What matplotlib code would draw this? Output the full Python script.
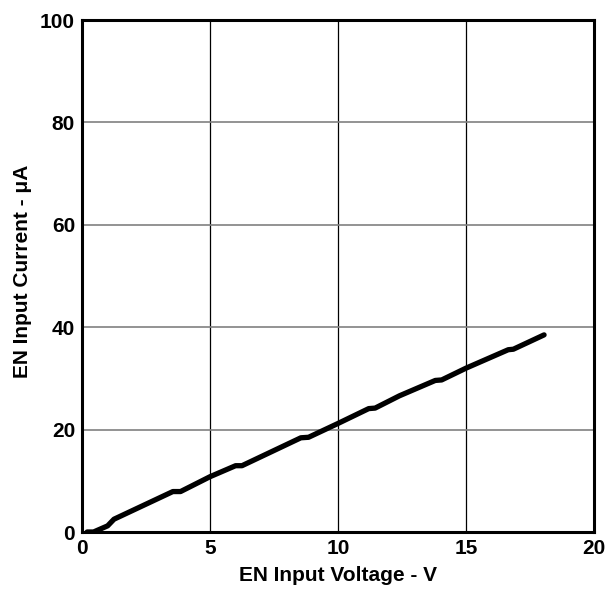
import matplotlib
matplotlib.use("Agg")
import matplotlib.pyplot as plt

# EN input current vs EN input voltage
voltage = [0.2, 0.45, 1.0, 1.25, 3.55, 3.85, 5.0, 6.0, 6.25, 8.55, 8.85,
           10.0, 11.2, 11.45, 12.4, 13.8, 14.05, 15.0, 16.65, 16.85, 18.05]
current = [0.0, 0.0, 1.2, 2.5, 7.9, 7.9, 10.8, 12.95, 12.95, 18.4, 18.5,
           21.2, 24.1, 24.2, 26.6, 29.6, 29.7, 32.0, 35.6, 35.7, 38.5]

x_ticks = [0, 5, 10, 15, 20]
y_ticks = [0, 20, 40, 60, 80, 100]

plt.rcParams["font.family"] = ["Liberation Sans", "DejaVu Sans"]
plt.rcParams["font.weight"] = "bold"

fig = plt.figure(figsize=(6.07, 5.90), dpi=100)
ax = fig.add_axes([82 / 607, 1 - 532 / 590, 512 / 607, 512 / 590])

ax.plot(voltage, current, color="black", lw=3.8, solid_capstyle="round",
        solid_joinstyle="round", zorder=3)

ax.set_xlim(0, 20)
ax.set_ylim(0, 100)
ax.set_xticks(x_ticks)
ax.set_yticks(y_ticks)
ax.tick_params(length=0, labelsize=15, pad=5)
for lbl in ax.get_xticklabels() + ax.get_yticklabels():
    lbl.set_fontweight("bold")

# vertical grid black, horizontal grid grey
ax.xaxis.grid(True, color="black", lw=0.9)
ax.yaxis.grid(True, color="#808080", lw=1.2)
ax.set_axisbelow(True)
for sp in ax.spines.values():
    sp.set_linewidth(2.2)

ax.set_xlabel("EN Input Voltage - V", fontsize=15, fontweight="bold", labelpad=6)
ax.set_ylabel("EN Input Current - \u03bcA", fontsize=15, fontweight="bold")
ax.yaxis.set_label_coords(-0.098, 0.51)

fig.savefig("out.png", dpi=100)
